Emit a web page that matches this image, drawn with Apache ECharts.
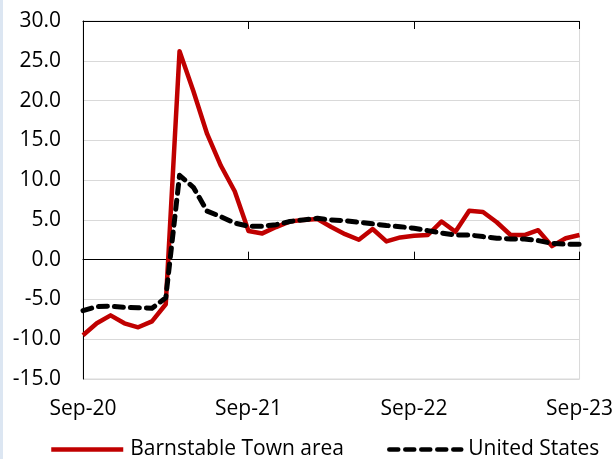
<!DOCTYPE html>
<html><head><meta charset="utf-8">
<script src="https://cdn.jsdelivr.net/npm/echarts@6/dist/echarts.min.js"></script>
<style>html,body{margin:0;padding:0;background:#fff}#c{width:616px;height:459px;box-sizing:border-box;border-left:3px solid #dce6f2}</style>
</head><body><div id="c"></div>
<script>
const months = ['Sep-20','Oct-20','Nov-20','Dec-20','Jan-21','Feb-21','Mar-21','Apr-21','May-21','Jun-21','Jul-21','Aug-21',
'Sep-21','Oct-21','Nov-21','Dec-21','Jan-22','Feb-22','Mar-22','Apr-22','May-22','Jun-22','Jul-22','Aug-22',
'Sep-22','Oct-22','Nov-22','Dec-22','Jan-23','Feb-23','Mar-23','Apr-23','May-23','Jun-23','Jul-23','Aug-23','Sep-23'];
const barnstable = [-9.5,-8.0,-7.0,-8.0,-8.5,-7.75,-5.6,26.2,21.2,15.8,11.8,8.6,
3.6,3.3,4.1,4.8,5.0,5.1,4.1,3.2,2.5,3.85,2.3,2.8,
3.0,3.1,4.8,3.5,6.15,6.0,4.7,3.1,3.1,3.7,1.7,2.7,3.1];
const unitedStates = [-6.4,-5.9,-5.85,-6.0,-6.05,-6.1,-4.8,10.6,9.1,6.1,5.4,4.6,
4.2,4.2,4.4,4.8,5.0,5.2,5.0,4.9,4.7,4.5,4.3,4.15,
3.95,3.65,3.35,3.1,3.1,2.9,2.7,2.6,2.6,2.4,2.05,1.95,1.95];
const seriesNames = ['Barnstable Town area','United States'];
const yTicks = {min:-15, max:30, interval:5};

const FONT = 'Open Sans';
const chart = echarts.init(document.getElementById('c'));
const baseX = {type:'category', data:months, boundaryGap:false};
chart.setOption({
  animation:false,
  grid:{left:80, right:34, top:21, bottom:80, show:true, borderColor:'#d9d9d9', borderWidth:1},
  legend:{left:46, top:439, padding:0, itemWidth:72, itemHeight:14, itemGap:43,
    itemStyle:{opacity:0}, lineStyle:{width:4.5},
    textStyle:{fontFamily:FONT, fontSize:21, color:'#000', padding:[0,0,0,2]},
    data:seriesNames},
  xAxis:[
    Object.assign({}, baseX, {position:'bottom', axisLine:{onZero:false, show:false}, axisTick:{show:false},
      axisLabel:{interval:11, margin:20, fontFamily:FONT, fontSize:21, color:'#000', showMaxLabel:true}}),
    Object.assign({}, baseX, {axisLine:{onZero:true, lineStyle:{color:'#000', width:1}},
      axisTick:{show:true, interval:11, length:8, inside:false, lineStyle:{color:'#000'}}, axisLabel:{show:false}}),
    Object.assign({}, baseX, {axisLine:{onZero:true, lineStyle:{color:'#000', width:1}},
      axisTick:{show:true, interval:11, length:8, inside:true, lineStyle:{color:'#000'}}, axisLabel:{show:false}})
  ],
  yAxis:{type:'value', min:yTicks.min, max:yTicks.max, interval:yTicks.interval,
    axisLine:{show:true, lineStyle:{color:'#000'}}, axisTick:{show:false},
    splitLine:{lineStyle:{color:'#d9d9d9', width:1}},
    axisLabel:{margin:22, fontFamily:FONT, fontSize:21, color:'#000', formatter:v=>v.toFixed(1)}},
  series:[
    {name:seriesNames[0], type:'line', data:barnstable, symbol:'none', z:3,
      lineStyle:{color:'#c00000', width:4.5, join:'round'}, itemStyle:{color:'#c00000'}},
    {name:seriesNames[1], type:'line', data:unitedStates, symbol:'none', z:4,
      lineStyle:{color:'#000', width:5, type:[9,7], cap:'round', join:'round'}, itemStyle:{color:'#000'}}
  ]
});
</script></body></html>
